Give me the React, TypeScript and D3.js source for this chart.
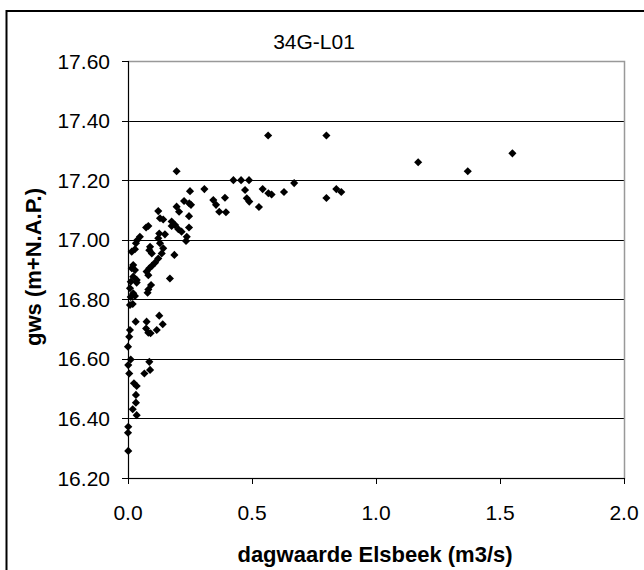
import React from "react";
import * as d3 from "d3";

const title = "34G-L01";
const xTitle = "dagwaarde Elsbeek (m3/s)";
const yTitle = "gws (m+N.A.P.)";
const xTicks = [0, 0.5, 1.0, 1.5, 2.0];
const yTicks = [16.2, 16.4, 16.6, 16.8, 17.0, 17.2, 17.4, 17.6];

const flowValues = [
  0.80, 0.565, 1.17, 1.37, 1.55, 0.67, 0.80, 0.84, 0.86,
  0.196, 0.425, 0.456, 0.488, 0.629, 0.543, 0.566, 0.579, 0.528, 0.472,
  0.479, 0.489, 0.308, 0.391, 0.344, 0.355, 0.368, 0.395, 0.25, 0.226,
  0.247, 0.254, 0.196, 0.206, 0.246, 0.122, 0.129, 0.142, 0.176, 0.19,
  0.176, 0.246, 0.082, 0.073, 0.203, 0.216, 0.126, 0.149, 0.237, 0.234,
  0.122, 0.129, 0.048, 0.038, 0.015, 0.032, 0.028, 0.089, 0.086, 0.096,
  0.142, 0.136, 0.187, 0.122, 0.109, 0.021, 0.015, 0.028, 0.096, 0.086,
  0.075, 0.082, 0.021, 0.035, 0.169, 0.011, 0.035, 0.008, 0.093, 0.082,
  0.079, 0.021, 0.028, 0.011, 0.008, 0.031, 0.075, 0.126, 0.14, 0.073,
  0.082, 0.091, 0.116, 0.008, 0.005, 0.019, 0.0, 0.011, 0.001, 0.005,
  0.086, 0.089, 0.066, 0.024, 0.035, 0.032, 0.032, 0.019, 0.035, 0.001,
  0.0, 0.001,
];

const levelValues = [
  17.35, 17.35, 17.26, 17.23, 17.29, 17.19, 17.14, 17.17, 17.16,
  17.23, 17.20, 17.20, 17.20, 17.16, 17.17, 17.156, 17.152, 17.11, 17.167,
  17.139, 17.128, 17.17, 17.141, 17.133, 17.117, 17.094, 17.092, 17.163, 17.13,
  17.122, 17.117, 17.111, 17.094, 17.079, 17.096, 17.072, 17.068, 17.061, 17.049,
  17.046, 17.041, 17.046, 17.041, 17.035, 17.027, 17.021, 17.018, 17.01, 16.996,
  17.005, 16.988, 17.01, 16.999, 16.96, 16.988, 16.968, 16.976, 16.965, 16.954,
  16.971, 16.954, 16.949, 16.937, 16.923, 16.915, 16.904, 16.898, 16.912, 16.904,
  16.893, 16.881, 16.876, 16.865, 16.87, 16.859, 16.856, 16.837, 16.848, 16.833,
  16.822, 16.82, 16.811, 16.808, 16.781, 16.725, 16.725, 16.745, 16.716, 16.702,
  16.688, 16.686, 16.697, 16.697, 16.674, 16.784, 16.641, 16.598, 16.579, 16.551,
  16.59, 16.563, 16.551, 16.518, 16.509, 16.479, 16.453, 16.431, 16.411, 16.372,
  16.352, 16.291,
];

const W = 644;
const H = 570;
const plot = { left: 128, right: 624, top: 61, bottom: 478 };
const font = "'Liberation Sans', Arial, sans-serif";

export default function App() {
  const x = d3.scaleLinear().domain([0, 2]).range([plot.left, plot.right]);
  const y = d3.scaleLinear().domain([16.2, 17.6]).range([plot.bottom, plot.top]);
  const diamond = d3.symbol().type(d3.symbolDiamond2).size(42)();
  const points = flowValues.map((v, i) => ({ fx: v, ly: levelValues[i] }));

  return (
    <svg
      width={W}
      height={H}
      style={{ position: "absolute", left: 0, top: 0, background: "#fff" }}
      fontFamily={font}
    >
      <rect x={0} y={0} width={W} height={H} fill="#fff" />
      <rect x={6.5} y={11} width={W + 20} height={H + 20} fill="none" stroke="#000" strokeWidth={2} />
      <text x={314} y={49} textAnchor="middle" fontSize={21} fill="#000">
        {title}
      </text>

      {/* gridlines */}
      {yTicks.slice(1, -1).map((t) => (
        <line key={"g" + t} x1={plot.left} x2={plot.right} y1={Math.round(y(t)) + 0.5} y2={Math.round(y(t)) + 0.5} stroke="#000" strokeWidth={1} />
      ))}
      {/* plot border */}
      <rect
        x={plot.left + 0.5}
        y={plot.top + 0.5}
        width={plot.right - plot.left}
        height={plot.bottom - plot.top}
        fill="none"
        stroke="#999"
        strokeWidth={1.5}
      />

      {/* y axis */}
      <line x1={plot.left + 0.5} x2={plot.left + 0.5} y1={plot.top} y2={plot.bottom} stroke="#000" />
      {yTicks.map((t) => (
        <g key={"y" + t}>
          <line x1={plot.left - 6} x2={plot.left} y1={Math.round(y(t)) + 0.5} y2={Math.round(y(t)) + 0.5} stroke="#000" />
          <text x={110} y={y(t) + 7.5} textAnchor="end" fontSize={21} fill="#000">
            {t.toFixed(2)}
          </text>
        </g>
      ))}

      {/* x axis */}
      <line x1={plot.left} x2={plot.right} y1={plot.bottom + 0.5} y2={plot.bottom + 0.5} stroke="#000" />
      {xTicks.map((t) => (
        <g key={"x" + t}>
          <line x1={Math.round(x(t)) + 0.5} x2={Math.round(x(t)) + 0.5} y1={plot.bottom} y2={plot.bottom + 6} stroke="#000" />
          <text x={x(t)} y={520} textAnchor="middle" fontSize={21} fill="#000">
            {t.toFixed(1)}
          </text>
        </g>
      ))}

      {/* points */}
      {points.map((p, i) => (
        <path key={i} d={diamond} transform={`translate(${x(p.fx)},${y(p.ly)})`} fill="#000" />
      ))}

      <text x={375} y={562} textAnchor="middle" fontSize={22} fontWeight="bold" fill="#000">
        {xTitle}
      </text>
      <text
        transform={`translate(41,267) rotate(-90)`}
        textAnchor="middle"
        fontSize={22}
        fontWeight="bold"
        fill="#000"
      >
        {yTitle}
      </text>
    </svg>
  );
}
